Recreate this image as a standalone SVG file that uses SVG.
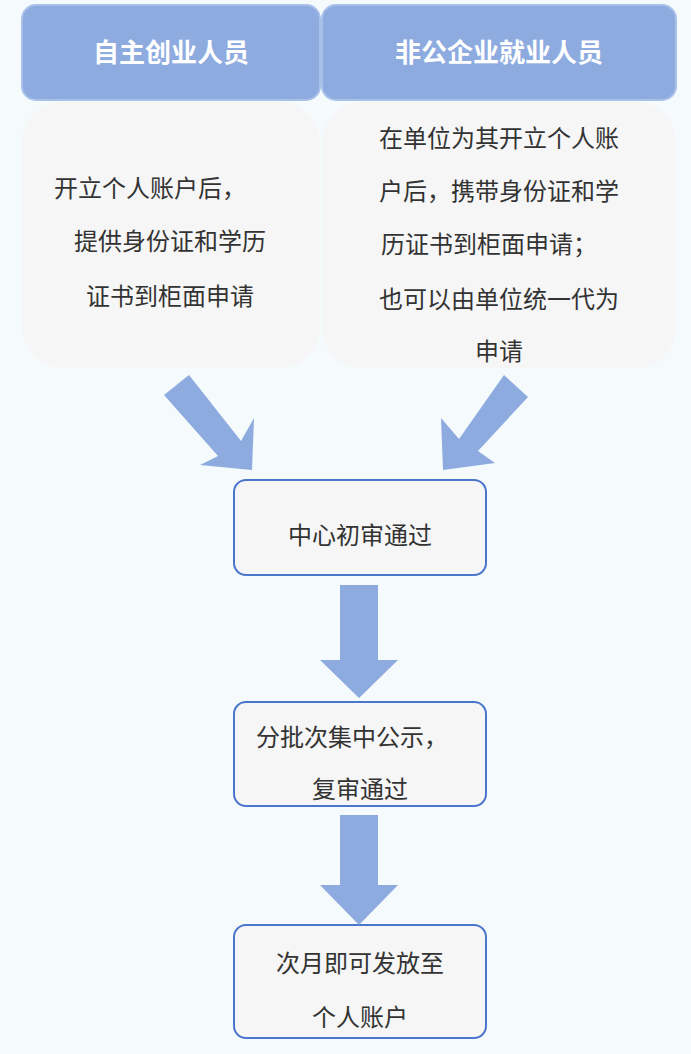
<svg xmlns="http://www.w3.org/2000/svg" width="691" height="1054" viewBox="0 0 691 1054">
<style>
.h{fill:#8eabe0;stroke:#a9c0ea;stroke-width:2}
.c{fill:#f6f6f6}
.b{fill:#f6f6f6;stroke:#4a76cc;stroke-width:2}
.ht{font-family:"Noto Sans CJK SC",sans-serif;font-size:26px;font-weight:bold;fill:#fff;text-anchor:middle}
.t{font-family:"Noto Sans CJK SC",sans-serif;font-size:24px;fill:#333;text-anchor:middle}
.a{fill:#8eabe0}
</style>
<rect width="691" height="1054" fill="#f5fafd"/>
<g id="n1"><rect class="h" x="22" y="5" width="298" height="95" rx="14"/><text class="ht" x="171" y="62">自主创业人员</text></g>
<g id="n2"><rect class="h" x="322" y="5" width="354" height="95" rx="14"/><text class="ht" x="499" y="62">非公企业就业人员</text></g>
<g id="n3"><rect class="c" x="22" y="102" width="298" height="266" rx="40"/>
<text class="t" x="150" y="197">开立个人账户后，</text>
<text class="t" x="170" y="250">提供身份证和学历</text>
<text class="t" x="170" y="305">证书到柜面申请</text></g>
<g id="n4"><rect class="c" x="322" y="102" width="354" height="266" rx="40"/>
<text class="t" x="499" y="147">在单位为其开立个人账</text>
<text class="t" x="499" y="200">户后，携带身份证和学</text>
<text class="t" x="489" y="253">历证书到柜面申请；</text>
<text class="t" x="499" y="308">也可以由单位统一代为</text>
<text class="t" x="499" y="360">申请</text></g>
<g id="n5"><rect class="b" x="234" y="480" width="252" height="95" rx="12"/><text class="t" x="360" y="544">中心初审通过</text></g>
<g id="n6"><rect class="b" x="234" y="702" width="252" height="104" rx="12"/><text class="t" x="352" y="746">分批次集中公示，</text><text class="t" x="360" y="798">复审通过</text></g>
<g id="n7"><rect class="b" x="234" y="925" width="252" height="113" rx="12"/><text class="t" x="360" y="972">次月即可发放至</text><text class="t" x="360" y="1026">个人账户</text></g>
<g id="connectors">
<polygon class="a" points="164,395 189,375 241,441 254,418 252,470 200,465 218,456"/>
<polygon class="a" points="528,397 504,375 459,439 441,418 443,470 495,463 478,451"/>
<polygon class="a" points="340,585 378,585 378,660 398,660 359,698 320,660 340,660"/>
<polygon class="a" points="340,815 378,815 378,885 398,885 359,925 320,885 340,885"/>
</g>
</svg>
